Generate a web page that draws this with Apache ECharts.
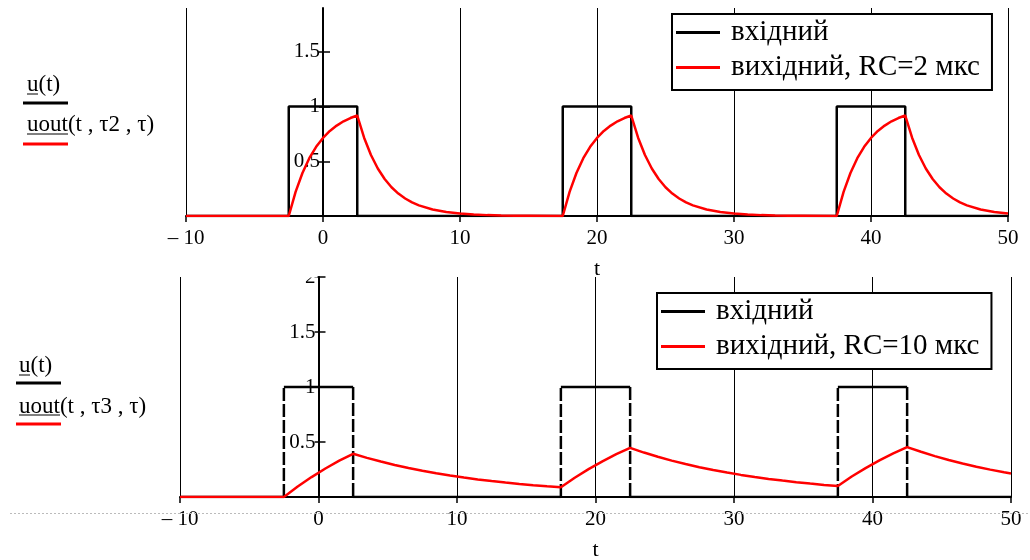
<!DOCTYPE html>
<html>
<head>
<meta charset="utf-8">
<script src="https://cdn.jsdelivr.net/npm/echarts@6/dist/echarts.min.js"></script>
<style>
html,body{margin:0;padding:0;background:#fff;}
#chart{width:1030px;height:560px;}
</style>
</head>
<body>
<div id="chart"></div>
<script>
// ---- data ----
var tTicks = [-10, 0, 10, 20, 30, 40, 50];
var yTickLabels = [0.5, 1, 1.5, 2];
var pulseStart = [-2.5, 17.5, 37.5];
var pulseEnd = [2.5, 22.5, 42.5];
var pulseLevel = 1;
var legendTop = ['вхідний', 'вихідний, RC=2 мкс'];
var legendBottom = ['вхідний', 'вихідний, RC=10 мкс'];
var traceLabelsTop = ['u(t)', 'uout(t , τ2 , τ)'];
var traceLabelsBottom = ['u(t)', 'uout(t , τ3 , τ)'];

// output, RC = 2 (top chart): [t, u]
var outRC2 = [
  [-10,0],[-2.5,0],[-2,0.221],[-1.5,0.393],[-1,0.528],[-0.5,0.632],[0,0.713],[0.5,0.777],[1,0.826],[1.5,0.865],[2,0.895],[2.5,0.918],
  [3,0.715],[3.5,0.557],[4,0.434],[4.5,0.338],[5,0.263],[5.5,0.205],[6,0.160],[6.5,0.124],[7,0.097],[8,0.059],[9,0.036],[10,0.022],
  [11,0.013],[12,0.008],[13,0.005],[14,0.003],[15,0.002],[17.5,0],
  [18,0.221],[18.5,0.393],[19,0.528],[19.5,0.632],[20,0.713],[20.5,0.777],[21,0.826],[21.5,0.865],[22,0.895],[22.5,0.918],
  [23,0.715],[23.5,0.557],[24,0.434],[24.5,0.338],[25,0.263],[25.5,0.205],[26,0.160],[26.5,0.124],[27,0.097],[28,0.059],[29,0.036],[30,0.022],
  [31,0.013],[32,0.008],[33,0.005],[34,0.003],[35,0.002],[37.5,0],
  [38,0.221],[38.5,0.393],[39,0.528],[39.5,0.632],[40,0.713],[40.5,0.777],[41,0.826],[41.5,0.865],[42,0.895],[42.5,0.918],
  [43,0.715],[43.5,0.557],[44,0.434],[44.5,0.338],[45,0.263],[45.5,0.205],[46,0.160],[46.5,0.124],[47,0.097],[48,0.059],[49,0.036],[50,0.022]
];

// output, RC = 10 (bottom chart): [t, u]
var outRC10 = [
  [-10,0],[-2.5,0],[-1.5,0.095],[-0.5,0.181],[0.5,0.259],[1.5,0.330],[2.5,0.393],
  [3.5,0.356],[4.5,0.322],[5.5,0.291],[6.5,0.263],[7.5,0.238],[8.5,0.216],[9.5,0.195],[10.5,0.177],[11.5,0.160],[12.5,0.145],
  [13.5,0.131],[14.5,0.118],[15.5,0.107],[16.5,0.097],[17.5,0.088],
  [18.5,0.175],[19.5,0.253],[20.5,0.324],[21.5,0.389],[22.5,0.447],
  [23.5,0.404],[24.5,0.366],[25.5,0.331],[26.5,0.300],[27.5,0.271],[28.5,0.245],[29.5,0.222],[30.5,0.201],[31.5,0.182],[32.5,0.164],
  [33.5,0.149],[34.5,0.135],[35.5,0.122],[36.5,0.110],[37.5,0.100],
  [38.5,0.186],[39.5,0.263],[40.5,0.333],[41.5,0.397],[42.5,0.454],
  [43.5,0.411],[44.5,0.372],[45.5,0.336],[46.5,0.304],[47.5,0.275],[48.5,0.249],[49.5,0.225],[50,0.214]
];

// ---- build input square-wave lines from the pulse edges ----
var xMin = tTicks[0], xMax = tTicks[tTicks.length - 1];
function fullPulse() {
  var d = [[xMin, 0]];
  for (var i = 0; i < pulseStart.length; i++) {
    d.push([pulseStart[i], 0], [pulseStart[i], pulseLevel], [pulseEnd[i], pulseLevel], [pulseEnd[i], 0]);
  }
  d.push([xMax, 0]);
  return d;
}
function pulseHorizontals() {
  var d = [[xMin, 0]];
  for (var i = 0; i < pulseStart.length; i++) {
    d.push([pulseStart[i], 0], [pulseStart[i], null],
           [pulseStart[i], pulseLevel], [pulseEnd[i], pulseLevel], [pulseEnd[i], null],
           [pulseEnd[i], 0]);
  }
  d.push([xMax, 0]);
  return d;
}
function pulseVerticals() {
  var d = [];
  for (var i = 0; i < pulseStart.length; i++) {
    d.push([pulseStart[i], 0], [pulseStart[i], pulseLevel], [pulseStart[i], null],
           [pulseEnd[i], pulseLevel], [pulseEnd[i], 0], [pulseEnd[i], null]);
  }
  return d;
}

var FONT = 'Liberation Serif';
function xLabel(v) { return v < 0 ? '– ' + Math.abs(v) : String(v); }

function makeX(gridIndex, nameGap) {
  return {
    type: 'value', gridIndex: gridIndex, min: xMin, max: xMax, interval: 10,
    name: 't', nameLocation: 'middle', nameGap: nameGap,
    nameTextStyle: { fontFamily: FONT, fontSize: 22, color: '#000' },
    axisLine: { onZero: true, lineStyle: { color: '#000', width: 2 } },
    axisTick: { show: true, length: 6, lineStyle: { color: '#000', width: 1.5 } },
    axisLabel: { fontFamily: FONT, fontSize: 21, color: '#000', margin: 12, formatter: xLabel },
    splitLine: { show: true, lineStyle: { color: '#000', width: 1 } }
  };
}
// main y axis (line, outer ticks, labels) placed at t = 0 through offset
function makeY(gridIndex, max, labels, offset) {
  return {
    type: 'value', gridIndex: gridIndex, position: 'left', min: 0, max: max, interval: 0.5, offset: offset,
    axisLine: { onZero: false, lineStyle: { color: '#000', width: 2 } },
    axisTick: { show: true, length: 4, customValues: labels, lineStyle: { color: '#000', width: 1.5 } },
    axisLabel: { fontFamily: FONT, fontSize: 21, color: '#000', margin: 3, customValues: labels },
    splitLine: { show: false }
  };
}
// companion axis: inner half of the crossing ticks
function makeYInner(gridIndex, max, labels, offset) {
  return {
    type: 'value', gridIndex: gridIndex, position: 'left', min: 0, max: max, interval: 0.5, offset: offset,
    axisLine: { show: false, onZero: false },
    axisTick: { show: true, inside: true, length: 7, customValues: labels, lineStyle: { color: '#000', width: 1.5 } },
    axisLabel: { show: false },
    splitLine: { show: false }
  };
}

var legendCommon = {
  orient: 'vertical', icon: 'rect', itemWidth: 44, itemHeight: 3, itemGap: 6,
  selectedMode: false, backgroundColor: '#fff', borderColor: '#000', borderWidth: 2,
  padding: [4, 12, 8, 4],
  textStyle: { fontFamily: FONT, fontSize: 29, lineHeight: 28, color: '#000', padding: [0, 0, 0, 6] }
};

function traceGraphics(labels, x, y1, y2, lineX1, lineX2, ly1, ly2, ul1, ul2) {
  var f = '23px "' + FONT + '"';
  return [
    { type: 'text', left: x, top: y1, style: { text: labels[0], font: f, fill: '#000' } },
    { type: 'line', shape: { x1: x, y1: ul1, x2: x + 11, y2: ul1 }, style: { stroke: '#000', lineWidth: 1 } },
    { type: 'line', shape: { x1: lineX1, y1: ly1, x2: lineX2, y2: ly1 }, style: { stroke: '#000', lineWidth: 3 } },
    { type: 'text', left: x, top: y2, style: { text: labels[1], font: f, fill: '#000' } },
    { type: 'line', shape: { x1: x, y1: ul2, x2: x + 41, y2: ul2 }, style: { stroke: '#000', lineWidth: 1 } },
    { type: 'line', shape: { x1: lineX1, y1: ly2, x2: lineX2, y2: ly2 }, style: { stroke: '#f00', lineWidth: 3 } }
  ];
}

var grids = [
  { left: 186, right: 22, top: 8, height: 208 },
  { left: 180, right: 19, top: 277, height: 220 }
];

var chart = echarts.init(document.getElementById('chart'), null, { renderer: 'canvas' });
function buildOption(off0, off1, extraGraphic) {
  return {
    animation: false,
    backgroundColor: '#fff',
    grid: grids.map(function (g) { return Object.assign({ outerBoundsMode: 'none' }, g); }),
    xAxis: [makeX(0, 42), makeX(1, 42)],
    yAxis: [
      makeY(0, 1.9, yTickLabels.slice(0, 3), off0),
      makeY(1, 2, yTickLabels, off1),
      makeYInner(0, 1.9, yTickLabels.slice(0, 3), off0),
      makeYInner(1, 2, yTickLabels, off1)
    ],
    legend: [
      Object.assign({}, legendCommon, { left: 672, top: 14, data: legendTop }),
      Object.assign({}, legendCommon, { left: 657, top: 293, data: legendBottom })
    ],
    graphic: [].concat(
      traceGraphics(traceLabelsTop, 27, 73, 113, 23, 68, 103, 144, 94, 134),
      traceGraphics(traceLabelsBottom, 19, 354, 395, 16, 61, 383, 424, 375, 415),
      [
        { type: 'line', z: 100, shape: { x1: 10, y1: 513.5, x2: 1030, y2: 513.5 }, style: { stroke: '#bbb', lineWidth: 1, lineDash: [2, 2] } }
      ],
      extraGraphic || []
    ),
    series: [
      { name: legendTop[0], type: 'line', xAxisIndex: 0, yAxisIndex: 0, data: fullPulse(), showSymbol: false, symbol: 'none',
        color: '#000', lineStyle: { color: '#000', width: 2.5 } },
      { name: legendTop[1], type: 'line', xAxisIndex: 0, yAxisIndex: 0, data: outRC2, showSymbol: false, symbol: 'none',
        color: '#f00', lineStyle: { color: '#f00', width: 2.5 } },
      { name: legendBottom[0], type: 'line', xAxisIndex: 1, yAxisIndex: 1, data: pulseHorizontals(), showSymbol: false, symbol: 'none',
        connectNulls: false, color: '#000', lineStyle: { color: '#000', width: 2.5 } },
      { name: 'вхідний-фронти', type: 'line', xAxisIndex: 1, yAxisIndex: 1, data: pulseVerticals(), showSymbol: false, symbol: 'none',
        connectNulls: false, color: '#000', lineStyle: { color: '#000', width: 2.5, type: [13, 3] } },
      { name: legendBottom[1], type: 'line', xAxisIndex: 1, yAxisIndex: 1, data: outRC10, showSymbol: false, symbol: 'none',
        color: '#f00', lineStyle: { color: '#f00', width: 2.5 } }
    ]
  };
}
chart.setOption(buildOption(0, 0));
// place each y axis on t = 0 of its own x axis
var x0a = chart.convertToPixel({ xAxisIndex: 0 }, 0);
var x0b = chart.convertToPixel({ xAxisIndex: 1 }, 0);
// the reference crops the top of the bottom plot's "2" label
var mask = [{ type: 'rect', z: 100, shape: { x: x0b - 30, y: 262, width: 29, height: 15.5 }, style: { fill: '#fff' } }];
chart.setOption(buildOption(-(x0a - grids[0].left), -(x0b - grids[1].left), mask), true);
</script>
</body>
</html>
